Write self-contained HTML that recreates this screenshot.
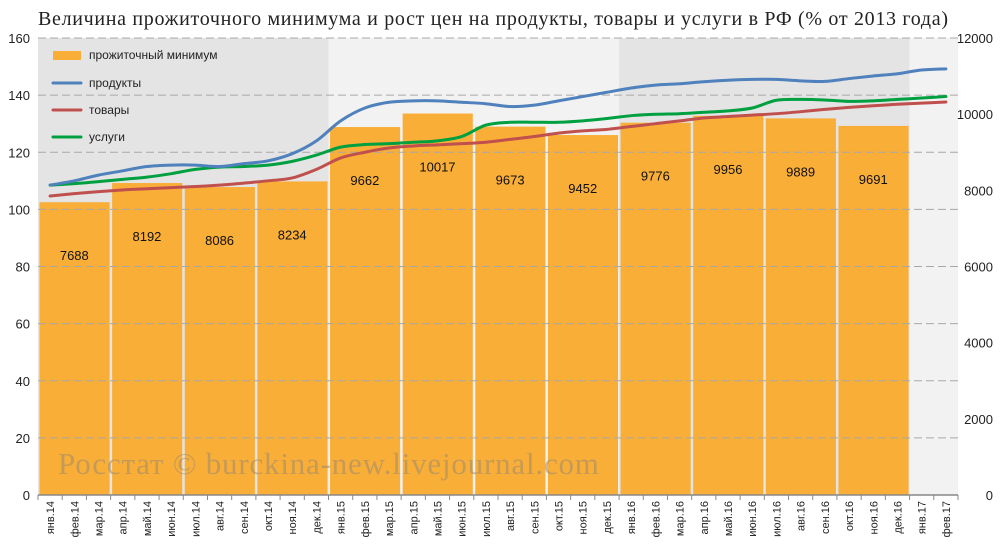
<!DOCTYPE html>
<html><head><meta charset="utf-8"><style>
body{margin:0;background:#fff;}
svg{display:block;font-family:"Liberation Sans",sans-serif;}
</style></head><body>
<svg id="c" width="1000" height="550"></svg>
<script>
const months=["янв.14","фев.14","мар.14","апр.14","май.14","июн.14","июл.14","авг.14","сен.14","окт.14","ноя.14","дек.14","янв.15","фев.15","мар.15","апр.15","май.15","июн.15","июл.15","авг.15","сен.15","окт.15","ноя.15","дек.15","янв.16","фев.16","мар.16","апр.16","май.16","июн.16","июл.16","авг.16","сен.16","окт.16","ноя.16","дек.16","янв.17","фев.17"];
const minimum=[7688,8192,8086,8234,9662,10017,9673,9452,9776,9956,9889,9691];
const products=[108.5,110,112,113.5,115,115.5,115.5,115,116,117,119.5,124,131,135.5,137.5,138,138,137.5,137,136,136.5,138,139.5,141,142.5,143.5,144,144.7,145.2,145.5,145.5,145,144.8,145.8,146.7,147.5,148.8,149.2];
const goods=[104.7,105.5,106.2,106.8,107.2,107.6,108,108.5,109.2,110,111,114,118,120,121.5,122.2,122.6,123,123.5,124.5,125.5,126.7,127.5,128,129,130,131,132,132.5,133,133.5,134.2,135,135.7,136.3,136.8,137.2,137.6];
const services=[108.5,109,109.7,110.5,111.3,112.5,114,114.8,115,115.5,116.8,119,121.8,122.7,123,123.5,124,125.5,129.5,130.5,130.5,130.5,131,131.8,132.8,133.3,133.5,134,134.5,135.5,138.2,138.5,138.3,137.8,138,138.5,139,139.5];
const leftTicks=[0,20,40,60,80,100,120,140,160];
const rightTicks=[0,2000,4000,6000,8000,10000,12000];

const NS="http://www.w3.org/2000/svg";
const svg=document.getElementById('c');
const X0=38,X1=958,Y0=495,Y1=38;
const mw=(X1-X0)/months.length;
const yL=v=>Y0-(v/160)*(Y0-Y1);
const yR=v=>Y0-(v/12000)*(Y0-Y1);
const xm=i=>X0+(i+0.5)*mw;
function el(t,a,txt){const e=document.createElementNS(NS,t);for(const k in a)e.setAttribute(k,a[k]);if(txt!==undefined)e.textContent=txt;svg.appendChild(e);return e;}

const bgc=["#e4e4e4","#f2f2f2","#e4e4e4","#f2f2f2"];
[[0,12],[12,24],[24,36],[36,38]].forEach((r,k)=>{
 const e=el('rect',{x:X0+r[0]*mw,y:Y1,width:(r[1]-r[0])*mw,height:Y0-Y1,fill:bgc[k]});
 
 
});
minimum.forEach((v,i)=>{
 const e=el('rect',{x:X0+i*3*mw+1.5,y:yR(v),width:3*mw-2.5,height:Y0-yR(v),fill:"#f9ae38"});
 
 
});
leftTicks.forEach(t=>{
 if(t>0){const g=el('line',{x1:X0,x2:X1,y1:yL(t),y2:yL(t),stroke:"#a8a8a8","stroke-dasharray":"8,4","stroke-width":1});
 
 }
 const l=el('text',{x:30,y:yL(t)+5,"text-anchor":"end","font-size":13,fill:"#222"},t);
 
 
});
rightTicks.forEach(t=>{
 const l=el('text',{x:993,y:yR(t)+5,"text-anchor":"end","font-size":13,fill:"#222"},t);
 
 
});
minimum.forEach((v,i)=>{
 const l=el('text',{x:X0+(i*3+1.5)*mw,y:yR(v)+58,"text-anchor":"middle","font-size":13,fill:"#111"},v);
 
 
});
const w=el('text',{x:58,y:474,"font-family":"Liberation Serif,serif","font-size":31,fill:"#9a8a70","fill-opacity":0.55,"letter-spacing":"0.8"},"Росстат © burckina-new.livejournal.com");


function path(vals){
 const p=vals.map((v,i)=>[xm(i),yL(v)]);
 let d=`M${p[0][0]},${p[0][1]}`;
 for(let i=0;i<p.length-1;i++){
  const a=p[Math.max(i-1,0)],b=p[i],c=p[i+1],e=p[Math.min(i+2,p.length-1)];
  d+=` C${b[0]+(c[0]-a[0])/6},${b[1]+(c[1]-a[1])/6} ${c[0]-(e[0]-b[0])/6},${c[1]-(e[1]-b[1])/6} ${c[0]},${c[1]}`;
 }return d;}
[[goods,"#c0504d","line-goods"],[services,"#00a040","line-services"],[products,"#4f81bd","line-products"]].forEach(s=>{
 const e=el('path',{d:path(s[0]),fill:"none",stroke:s[1],"stroke-width":3,"stroke-linecap":"round"});
 
 
});
const ax=el('line',{x1:X0,x2:X1,y1:Y0,y2:Y0,stroke:"#888","stroke-width":1.5});


for(let i=0;i<=months.length;i++){
 const t=el('line',{x1:X0+i*mw,x2:X0+i*mw,y1:Y0,y2:Y0+5,stroke:"#888"});
 
 
}
months.forEach((m,i)=>{
 const x=xm(i)+4;
 const l=el('text',{x:x,y:501,"text-anchor":"end","font-size":11,fill:"#222",transform:`rotate(-90 ${x} 501)`},m);
 
 
});
const leg=[["rect","#f9ae38","прожиточный минимум",55],["line","#4f81bd","продукты",83],["line","#c0504d","товары",110],["line","#00a040","услуги",137]];
leg.forEach(g=>{
 let e;
 if(g[0]==="rect")e=el('rect',{x:53,y:g[3]-4,width:28,height:9,fill:g[1]});
 else e=el('line',{x1:53,x2:81,y1:g[3],y2:g[3],stroke:g[1],"stroke-width":3,"stroke-linecap":"round"});
 
 
 const t=el('text',{x:89,y:g[3]+4,"font-size":12,fill:"#222"},g[2]);
 
 
});
const ti=el('text',{x:493,y:25,"text-anchor":"middle","font-family":"Liberation Serif,serif","font-size":20,"textLength":910,"lengthAdjust":"spacing",fill:"#222"},"Величина прожиточного минимума и рост цен на продукты, товары и услуги в РФ (% от 2013 года)");


</script>
</body></html>
